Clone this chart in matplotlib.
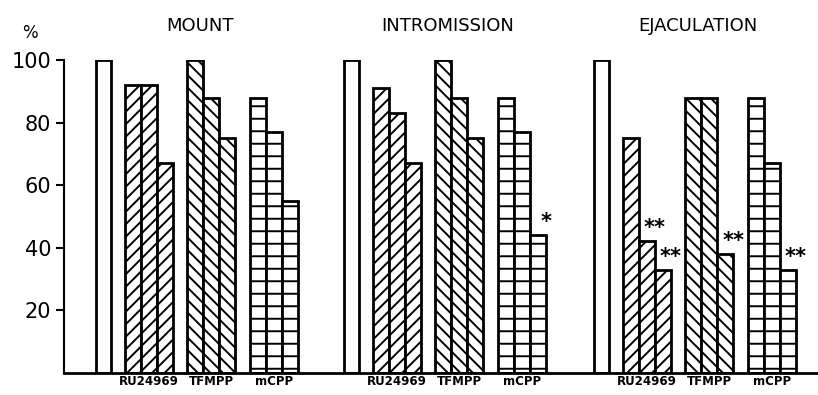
import matplotlib
matplotlib.use("Agg")
import matplotlib.pyplot as plt

# percent of animals showing each behaviour (control, then 3 doses per drug)
panels = ["MOUNT", "INTROMISSION", "EJACULATION"]
drugs = ["RU24969", "TFMPP", "mCPP"]
control = [100, 100, 100]
ru24969 = [[92, 92, 67], [91, 83, 67], [75, 42, 33]]
tfmpp = [[100, 88, 75], [100, 88, 75], [88, 88, 38]]
mcpp = [[88, 77, 55], [88, 77, 44], [88, 67, 33]]
# significance marks: (panel, drug, dose) -> text
stars = {(1, 2, 2): "*", (2, 0, 1): "**", (2, 0, 2): "**",
         (2, 1, 2): "**", (2, 2, 2): "**"}

# rendered at 150 dpi so the hatch spacing matches; k rescales point sizes
DPI = 150
k = 100 / DPI

plt.rcParams['hatch.linewidth'] = 1.4 * k
fig = plt.figure(figsize=(818 / DPI, 395 / DPI), dpi=DPI)
ax = fig.add_axes([0.078, 0.056, 0.922, 0.792])

# diagonal hatches are half as dense as '-' per char, hence 4 vs 2
hatches = ["////", "\\\\\\\\", "--"]
drug_data = [ru24969, tfmpp, mcpp]
panel_start = [2.0, 17.5, 33.1]
drug_start = [1.8, 5.7, 9.6]

for p, x0 in enumerate(panel_start):
    ax.bar(x0, control[p], width=0.95, align='edge', facecolor='white',
           edgecolor='black', linewidth=2.0 * k)
    for d, vals in enumerate(drug_data):
        xs = [x0 + drug_start[d] + i for i in range(3)]
        ax.bar(xs, vals[p], width=1.0, align='edge', facecolor='white',
               edgecolor='black', linewidth=2.0 * k, hatch=hatches[d])
        for i in range(3):
            s = stars.get((p, d, i))
            if s:
                ax.text(xs[i] + 1.0, vals[p][i] + 1.0, s, ha='center', va='bottom',
                        fontsize=15 * k, fontweight='bold')
        ax.text(x0 + drug_start[d] + 1.5, -0.8, drugs[d], ha='center', va='top',
                fontsize=8.5 * k, fontweight='bold')
    ax.text(x0 + 6.5, 111, panels[p], ha='center', va='center', fontsize=13 * k)

ax.text(-2.1, 108.5, "%", ha='center', va='center', fontsize=12 * k)

ax.set_xlim(0, 47.1)
ax.set_ylim(0, 100)
ax.set_yticks([20, 40, 60, 80, 100])
ax.set_xticks([])
ax.tick_params(axis='y', direction='out', length=6 * k, width=1.5 * k,
               labelsize=15 * k, pad=3 * k)
for s in ["top", "right"]:
    ax.spines[s].set_visible(False)
ax.spines["left"].set_linewidth(1.5 * k)
ax.spines["bottom"].set_linewidth(2.0 * k)
for t in ax.texts:
    t.set_clip_on(False)

fig.savefig("out.png", dpi=DPI)
